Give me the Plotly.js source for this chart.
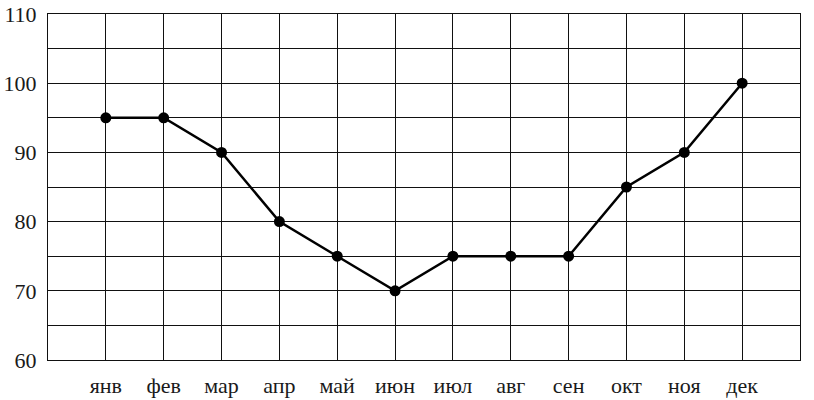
<!DOCTYPE html>
<html>
<head>
<meta charset="utf-8">
<script src="https://cdn.plot.ly/plotly-3.0.1.min.js"></script>
<style>html,body{margin:0;padding:0;background:#fff;}#chart{width:814px;height:400px;}</style>
</head>
<body>
<div id="chart"></div>
<script>
var months = ["янв","фев","мар","апр","май","июн","июл","авг","сен","окт","ноя","дек"];
var monthPos = [1,2,3,4,5,6,7,8,9,10,11,12];
var values = [95,95,90,80,75,70,75,75,75,85,90,100];
var yTicks = [60,70,80,90,100,110];

var FONT = "Liberation Serif";

var trace = {
  x: monthPos,
  y: values,
  mode: "lines+markers",
  line: {color: "#000", width: 2.5},
  marker: {color: "#000", size: 11},
  cliponaxis: false,
  hoverinfo: "skip"
};

var layout = {
  width: 814, height: 400,
  margin: {l: 48, r: 14, t: 14, b: 40},
  paper_bgcolor: "#fff", plot_bgcolor: "#fff",
  showlegend: false,
  font: {family: FONT, color: "#1a1a1a", size: 22},
  xaxis: {
    range: [0, 13], tickvals: monthPos, ticktext: months,
    showgrid: true, gridcolor: "#111", gridwidth: 1,
    showline: true, linecolor: "#111", linewidth: 1, mirror: true,
    ticks: "", zeroline: false, fixedrange: true,
    tickfont: {family: FONT, size: 22, color: "#1a1a1a"}, ticklabelstandoff: 6
  },
  yaxis: {
    range: [60, 110], tickvals: yTicks,
    showgrid: true, gridcolor: "#111", gridwidth: 1,
    minor: {dtick: 5, tick0: 60, showgrid: true, gridcolor: "#111", gridwidth: 1, ticks: ""},
    showline: true, linecolor: "#111", linewidth: 1, mirror: true,
    ticks: "", zeroline: false, fixedrange: true,
    tickfont: {family: FONT, size: 22, color: "#1a1a1a"}, ticklabelstandoff: 6
  }
};

Plotly.newPlot("chart", [trace], layout, {staticPlot: true, displayModeBar: false});
</script>
</body>
</html>
